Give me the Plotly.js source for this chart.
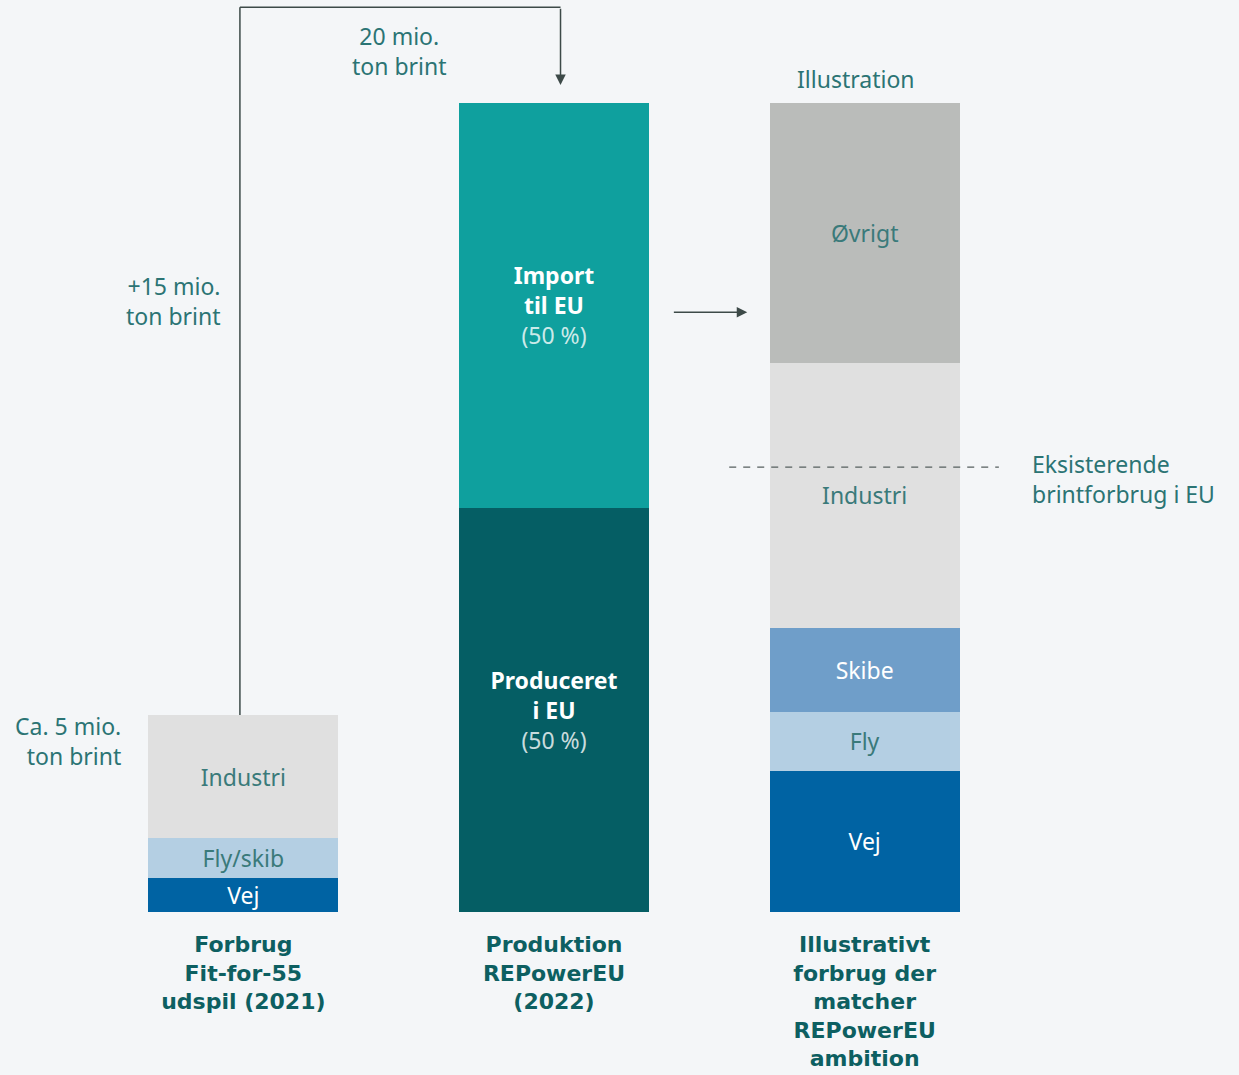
<!DOCTYPE html>
<html>
<head>
<meta charset="utf-8">
<script src="https://cdn.plot.ly/plotly-3.0.1.min.js"></script>
<style>html,body{margin:0;padding:0;background:#f4f6f8;}</style>
</head>
<body>
<div id="chart" style="width:1239px;height:1075px;"></div>
<script>
// ---- Data (mio. ton brint) ----
const categories = [
  "Forbrug<br>Fit-for-55<br>udspil (2021)",
  "Produktion<br>REPowerEU<br>(2022)",
  "Illustrativt<br>forbrug der<br>matcher<br>REPowerEU<br>ambition"
];
const vej        = [0.84, null, 3.49];
const flySkib    = [0.99, null, null];
const fly        = [null, null, 1.46];
const skibe      = [null, null, 2.08];
const industri   = [3.04, null, 6.55];
const oevrigt    = [null, null, 6.43];
const produceret = [null, 10, null];
const importEU   = [null, 10, null];
const existingConsumption = 11;
const total2022 = 20;

const FONT = "Noto Sans, Open Sans, sans-serif";
const BOLD_FONT = "DejaVu Sans, Noto Sans, sans-serif";
const TEAL_TXT = "#2b7474";
const LABEL_TXT = "#3a7a7a";
const LINE = "#3d4a48";

function seg(name, y, color, labels, txtColor) {
  return {
    type: "bar", name: name, x: categories, y: y,
    marker: {color: color, line: {width: 0}},
    text: labels, textposition: "inside", insidetextanchor: "middle",
    constraintext: "none", cliponaxis: false,
    textfont: {family: FONT, size: 23, color: txtColor},
    hoverinfo: "skip"
  };
}

const traces = [
  seg("Vej", vej, "#0063a3", ["Vej", "", "Vej"], "#ffffff"),
  seg("Fly/skib", flySkib, "#b4cfe3", ["Fly/skib", "", ""], LABEL_TXT),
  seg("Fly", fly, "#b4cfe3", ["", "", "Fly"], LABEL_TXT),
  seg("Skibe", skibe, "#6f9ec9", ["", "", "Skibe"], "#ffffff"),
  seg("Industri", industri, "#e0e0e0", ["Industri", "", "Industri"], LABEL_TXT),
  seg("Øvrigt", oevrigt, "#babcba", ["", "", "Øvrigt"], LABEL_TXT),
  seg("Produceret i EU", produceret, "#055e64",
      ["", "<b>Produceret<br>i EU</b><br><span style='color:rgba(255,255,255,0.8)'>(50 %)</span>", ""], "#ffffff"),
  seg("Import til EU", importEU, "#0fa09e",
      ["", "<b>Import<br>til EU</b><br><span style='color:rgba(255,255,255,0.8)'>(50 %)</span>", ""], "#ffffff")
];

const annFont = {family: FONT, size: 23, color: TEAL_TXT};
const layout = {
  width: 1239, height: 1075,
  margin: {l: 88, r: 219, t: 0, b: 163},
  paper_bgcolor: "#f4f6f8", plot_bgcolor: "#f4f6f8",
  barmode: "stack", bargap: 0.389,
  showlegend: false,
  font: {family: FONT},
  xaxis: {
    type: "category", range: [-0.5, 2.5], fixedrange: true,
    showgrid: false, zeroline: false, showline: false, ticks: "",
    tickfont: {family: BOLD_FONT, size: 22, color: "#0d5f61", weight: "bold"},
    ticklabelstandoff: 17
  },
  yaxis: {range: [0, 22.55], visible: false, fixedrange: true},
  shapes: [
    // bracket from bar 1 up and across to bar 2
    {type: "line", xref: "x", yref: "y", x0: -0.011, x1: -0.011, y0: 4.87, y1: 22.37,
     line: {color: LINE, width: 1.5}},
    {type: "line", xref: "x", yref: "y", x0: -0.011, x1: 1.021, y0: 22.37, y1: 22.37,
     line: {color: LINE, width: 1.5}},
    // dashed line: existing consumption
    {type: "line", xref: "x", yref: "y", x0: 1.564, x1: 2.432,
     y0: existingConsumption, y1: existingConsumption,
     line: {color: "#555f5e", width: 1.3, dash: "7px,7px"}}
  ],
  annotations: [
    {xref: "x", yref: "y", x: 1.021, y: 20.45, ax: 1.021, ay: 22.37, axref: "x", ayref: "y",
     showarrow: true, arrowhead: 2, arrowsize: 1.4, arrowwidth: 1.5, arrowcolor: LINE, text: ""},
    {xref: "x", yref: "y", x: 1.622, y: 14.83, ax: 1.381, ay: 14.83, axref: "x", ayref: "y",
     showarrow: true, arrowhead: 2, arrowsize: 1.4, arrowwidth: 1.5, arrowcolor: LINE, text: ""},
    {xref: "paper", yref: "paper", x: (123 - 88) / 932, y: (912 - 741) / 912, xanchor: "right", yanchor: "middle",
     align: "right", showarrow: false, text: "Ca. 5 mio.<br>ton brint", font: annFont},
    {xref: "paper", yref: "paper", x: (223 - 88) / 932, y: (912 - 301) / 912, xanchor: "right", yanchor: "middle",
     align: "right", showarrow: false, text: "+15 mio.<br>ton brint", font: annFont},
    {xref: "paper", yref: "paper", x: (399 - 88) / 932, y: (912 - 51) / 912, xanchor: "center", yanchor: "middle",
     align: "center", showarrow: false, text: total2022 + " mio.<br>ton brint", font: annFont},
    {xref: "paper", yref: "paper", x: (856 - 88) / 932, y: (912 - 79) / 912, xanchor: "center", yanchor: "middle",
     showarrow: false, text: "Illustration", font: annFont},
    {xref: "paper", yref: "paper", x: (1030 - 88) / 932, y: (912 - 479) / 912, xanchor: "left", yanchor: "middle",
     align: "left", showarrow: false, text: "Eksisterende<br>brintforbrug i EU", font: annFont}
  ]
};

Plotly.newPlot("chart", traces, layout, {displayModeBar: false, staticPlot: true});
</script>
</body>
</html>
